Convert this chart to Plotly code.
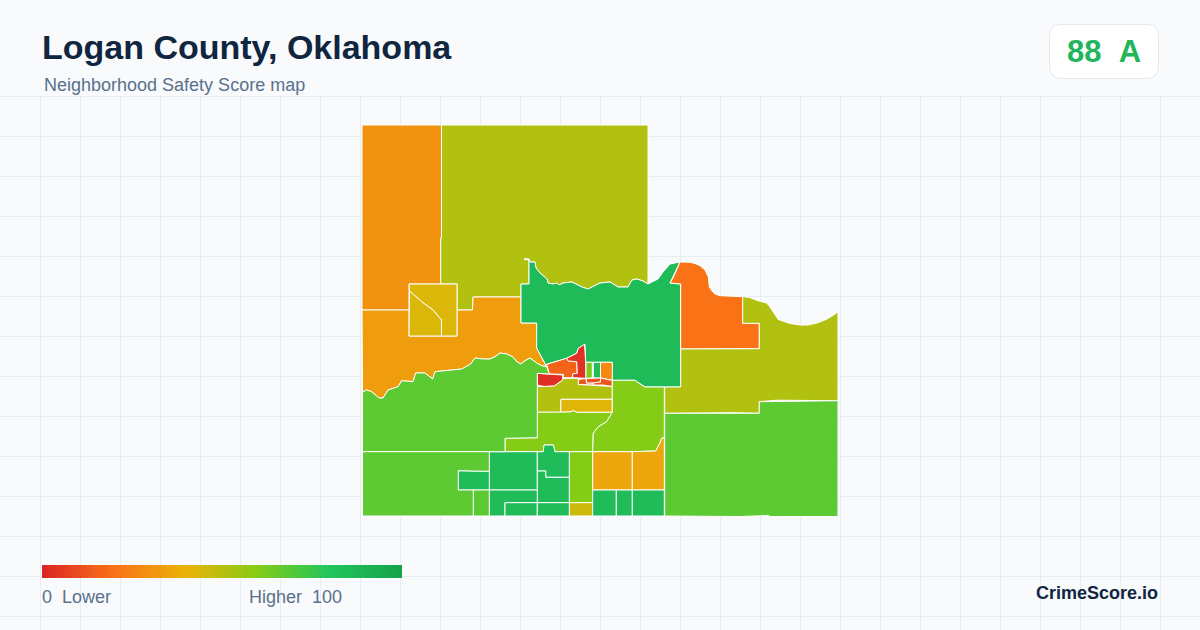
import plotly.graph_objects as go
from plotly.colors import sample_colorscale

# Score scale, same stops as the legend bar
legend_scores = [0, 20, 40, 60, 80, 100]
legend_colors = ["#dc2626", "#f97316", "#eab308", "#84cc16", "#22c55e", "#16a34a"]
legend_ramp = list(range(101))

# Shared boundaries (x, y in map units)
north_river = [(648, 284), (643, 281), (637, 279), (632, 280), (628, 287), (618, 287), (610, 282), (600, 283),
               (588, 289), (582, 287), (572, 282), (563, 283), (559, 285), (557, 283), (553, 284), (548, 283),
               (547, 279), (540, 273), (536, 268), (535, 262), (530, 262), (529, 259), (524, 259), (529, 260)]
south_river = [(546.7, 366.7), (541.7, 365.7), (536.7, 363), (530, 358), (525, 360.7), (520.7, 364), (516.7, 361.7),
               (513, 357), (506.7, 354), (500, 353), (495, 356.7), (490, 359), (483, 359), (475, 358), (470.7, 364),
               (461.7, 369), (450, 370), (435, 371.7), (432.7, 379), (425, 373), (415.7, 373), (413, 381.7),
               (401.7, 380.7), (398, 386.7), (388, 390), (383, 398), (379, 398), (371.7, 391.7), (366.7, 390),
               (362.5, 392)]
road_edge = [(612.3, 412.3), (611.7, 413.3), (606.7, 421.7), (598.3, 426.7), (593.3, 433.3), (592.7, 451.7)]
east_notch = [(664.3, 437.7), (661.7, 438.3), (660, 443), (655.7, 451), (632.3, 451.7)]

# Tract outlines
far_west = [(362, 125), (441.5, 125), (441.5, 238), (440.7, 238), (440.7, 284), (409, 284), (409, 310), (362, 310)]
north_plain = [(441.5, 125), (648, 125)] + north_river + [(529, 284), (521, 284), (521, 297), (473, 297), (472.5, 310),
               (457, 310), (457, 284), (440.7, 284), (440.7, 238), (441.5, 238)]
west_river = [(362, 310), (409, 310), (409, 336), (457, 336), (457, 310), (472.5, 310), (473, 297), (521, 297),
              (521, 323), (536.7, 323), (536.7, 348), (546.7, 366.7)] + south_river
square_upper = [(409, 284), (457, 284), (457, 336), (441.5, 336), (441.5, 320), (433, 310), (421.7, 301.7), (409.5, 291)]
square_lower = [(409.5, 291), (421.7, 301.7), (433, 310), (441.5, 320), (441.5, 336), (409, 336)]
central_north = north_river[::-1] + [(650, 283), (658, 279), (663, 272), (670, 264), (680, 262), (673, 278), (670, 283),
                 (680.7, 284), (680.7, 387), (645, 387), (640, 384), (635, 380.3), (612.3, 380.3), (612.3, 362.3),
                 (585.7, 362.3), (586, 378.3), (585, 344.3), (578.3, 348.3), (576.7, 353.3), (566.7, 358.3),
                 (546.7, 364.3), (546.7, 366.7), (536.7, 348), (536.7, 323), (521, 323), (521, 284), (529, 284)]
town_red = [(584.5, 344.3), (578.3, 348.3), (576.7, 353.3), (566.7, 358.3), (568.3, 361), (576.7, 361.7), (577.3, 373.3),
            (572.7, 374), (572.7, 377.7), (586, 378.3), (585.7, 362.3)]
town_orange = [(546.7, 364.3), (566.7, 358.3), (568.3, 361), (576.7, 361.7), (577.3, 373.3), (572.7, 374), (572.7, 377.7),
               (563.3, 377.7), (563.3, 374.3), (549.3, 374)]
town_low = [(537.3, 373.3), (549.3, 374.3), (562.7, 375), (562.7, 380), (554.3, 386), (545, 386.7), (537.3, 385)]
town_lime = [(586, 362.3), (592.3, 362.3), (592.3, 378), (586, 378.3)]
town_green = [(593.3, 362.3), (600.5, 362.3), (600.5, 378), (593.3, 378)]
town_amber = [(600.5, 362.3), (612.3, 362.3), (612.3, 380.3), (600.5, 378)]
strip_a = [(578.3, 379.5), (586, 378.5), (586.5, 383), (593, 383), (593, 385), (578.3, 384.5)]
strip_b = [(586.5, 378.5), (600.5, 378), (600.5, 382), (593, 383), (586.5, 383)]
strip_c = [(600.5, 378), (612.3, 380.5), (612.3, 386.5), (603, 385), (593, 385), (593, 383), (600.5, 382)]
south_town = [(537.3, 386.7), (545, 386.7), (554.3, 386), (562.7, 380), (563, 378.5), (578.3, 378.3), (578.3, 384.5),
              (612.3, 386.5), (612.3, 399.3), (561, 399.3), (560.7, 412.3), (537.3, 412.3)]
south_yellow = [(561, 399.3), (612.3, 399.3), (612.3, 412.3), (576.7, 412.3), (573.3, 410.7), (570, 412), (560.7, 412.3)]
mid_band = [(505, 438.3), (537.3, 437.7), (537.3, 412.3), (570, 412), (573.3, 410.7), (576.7, 412.3)] + road_edge + [
            (569.3, 451.7), (555, 451.7), (553.3, 445), (544, 445), (543.3, 451.7), (505, 451.7)]
mid_east = [(612.3, 380.3), (635, 380.3), (640, 384), (645, 387), (664.3, 387)] + east_notch + road_edge[::-1]
road_south = [(569.3, 451.7), (592.7, 451.7), (592.7, 502.7), (569.3, 502.7)]
road_foot = [(569.3, 502.7), (592.7, 502.7), (592.7, 516), (569.3, 516)]
amber_west = [(592.7, 451.7), (632.3, 451.7), (632.3, 490), (592.7, 490)]
amber_east = east_notch[::-1] + [(664.3, 490), (632.3, 490)]
foot_a = [(592.7, 490), (616.3, 490), (616.3, 516), (592.7, 516)]
foot_b = [(616.3, 490), (632.3, 490), (632.3, 516), (616.3, 516)]
foot_c = [(632.3, 490), (664.3, 490), (664.3, 516), (632.3, 516)]
cluster_a = [(489.3, 451.7), (537.3, 451.7), (537.3, 490), (489.3, 490)]
cluster_b = [(537.3, 451.7), (543.3, 451.7), (544, 445), (553.3, 445), (555, 451.7), (569.3, 451.7), (569.3, 477.3),
             (545.7, 477.3), (545.7, 471), (537.3, 471)]
cluster_c = [(537.3, 471), (545.7, 471), (545.7, 477.3), (569.3, 477.3), (569.3, 502.7), (537.3, 502.7)]
cluster_d = [(489.3, 490), (537.3, 490), (537.3, 502.7), (505, 502.7), (505, 516), (489.3, 516)]
cluster_e = [(505, 502.7), (537.3, 502.7), (537.3, 516), (505, 516)]
cluster_f = [(537.3, 502.7), (569.3, 502.7), (569.3, 516), (537.3, 516)]
cluster_g = [(458.3, 470.7), (489.3, 471.3), (489.3, 490), (458.3, 490)]
sliver = [(473.3, 490), (489.3, 490), (489.3, 516), (473.3, 516)]
south_west = south_river[::-1] + [(546.7, 366.7), (549.3, 374), (537.3, 373.3), (537.3, 437.7), (505, 438.3),
             (505, 451.7), (362.5, 451.7)]
corner_sw = [(362.5, 451.7), (489.3, 451.7), (489.3, 471.3), (458.3, 470.7), (458.3, 490), (473.3, 490), (473.3, 516),
             (362.5, 516)]
east_bend = [(680, 262), (690, 262.3), (695, 263.5), (700, 265.7), (705, 270), (708.3, 276.7), (709.3, 286.7), (711.7, 290.7),
             (715, 294), (720, 295.7), (742.7, 296.7), (742.7, 323.3), (759.3, 323.3), (759.3, 348.7), (740, 348.7),
             (680.7, 349), (680.7, 284), (670, 283), (673, 278)]
east_plain = [(744, 296.7), (750, 297.7), (758, 300.7), (766.7, 303), (770, 307), (773, 311.7), (778, 319.3), (784, 321.5),
              (790, 323.5), (800, 325), (808, 325), (817, 323), (826, 319.5), (832, 316), (838, 312), (838, 400.7),
              (776.7, 400.2), (759.3, 401.7), (759.3, 413.3), (731.7, 412.7), (664.7, 413.3), (664.7, 387), (680.7, 387),
              (680.7, 349), (759.3, 348.7), (759.3, 323.3), (742.7, 323.3), (742.7, 296.7)]
south_east = [(664.7, 413.3), (759.3, 413.3), (759.3, 401.7), (838, 400.7), (838, 516.5), (770, 516.5), (768, 515.5),
              (740, 516.5), (664.7, 516)]

tract_outlines = [far_west, north_plain, west_river, square_upper, square_lower, central_north, town_orange, town_red,
                  town_low, town_lime, town_green, town_amber, strip_a, strip_b, strip_c, south_town, south_yellow,
                  mid_band, mid_east, road_south, road_foot, amber_west, amber_east, foot_a, foot_b, foot_c, cluster_a,
                  cluster_b, cluster_c, cluster_d, cluster_e, cluster_f, cluster_g, sliver, south_west, corner_sw,
                  east_bend, east_plain, south_east]
tract_scores = [30, 51, 33, 43, 43, 86, 16, 3,
                2, 62, 84, 27, 12, 12, 12, 51, 42,
                60, 60, 60, 46, 36, 36, 85, 85, 85, 85,
                85, 85, 85, 85, 85, 85, 68, 68, 68,
                20, 51, 68]

colorscale = [[s / 100, c] for s, c in zip(legend_scores, legend_colors)]

fig = go.Figure()

for outline, score in zip(tract_outlines, tract_scores):
    fig.add_trace(go.Scatter(
        x=[p[0] for p in outline] + [outline[0][0]],
        y=[p[1] for p in outline] + [outline[0][1]],
        mode="lines",
        fill="toself",
        fillcolor=sample_colorscale(colorscale, score / 100)[0],
        line=dict(color="#ffffff", width=1),
        hoverinfo="skip",
        showlegend=False,
    ))

# Legend bar, 360 wide from x=42
fig.add_trace(go.Heatmap(
    z=[legend_ramp],
    x0=42 + 360 / 202, dx=360 / 101,
    y0=571.5, dy=13,
    zmin=0, zmax=100,
    colorscale=colorscale,
    showscale=False,
    hoverinfo="skip",
))

# Header sits over the grid, score badge on top of it
fig.add_shape(type="rect", x0=0, x1=1200, y0=0, y1=95.5, layer="between",
              fillcolor="#f8fafc", line_width=0)
fig.add_shape(type="path", layer="above", fillcolor="#ffffff", line=dict(color="#e2e8f0", width=1),
              path="M 1061.5 24.5 H 1146.5 Q 1158.5 24.5 1158.5 36.5 V 66.5 Q 1158.5 78.5 1146.5 78.5 "
                   "H 1061.5 Q 1049.5 78.5 1049.5 66.5 V 36.5 Q 1049.5 24.5 1061.5 24.5 Z")


def label(text, x, y, size, color, bold=False, anchor="left"):
    fig.add_annotation(x=x, y=y, text=f"<b>{text}</b>" if bold else text, showarrow=False,
                       xanchor=anchor, yanchor="middle", borderpad=0, borderwidth=0,
                       font=dict(family="Liberation Sans", size=size, color=color))


label("Logan County, Oklahoma", 42, 47, 34, "#10253f", bold=True)
label("Neighborhood Safety Score map", 44, 85, 18, "#5a708c")
label("88\u00a0\u00a0A", 1104, 51, 31, "#22b55a", bold=True, anchor="center")
label("0\u00a0\u00a0Lower", 42, 597, 18, "#5a708c")
label("Higher\u00a0\u00a0100", 342, 597, 18, "#5a708c", anchor="right")
label("CrimeScore.io", 1158, 593, 18, "#10253f", bold=True, anchor="right")

grid = dict(showgrid=True, gridcolor="#e6eef3", gridwidth=1, zeroline=False,
            showticklabels=False, ticks="", showline=False)
fig.update_xaxes(range=[0, 1200], tick0=0, dtick=40, **grid)
fig.update_yaxes(range=[630, 0], tick0=16, dtick=40, **grid)
fig.update_layout(width=1200, height=630, margin=dict(l=0, r=0, t=0, b=0),
                  paper_bgcolor="#f8fafc", plot_bgcolor="#f8fafc", showlegend=False)

fig.write_html("out.html", config={"displayModeBar": False},
               post_script="document.body.style.margin='0';")
